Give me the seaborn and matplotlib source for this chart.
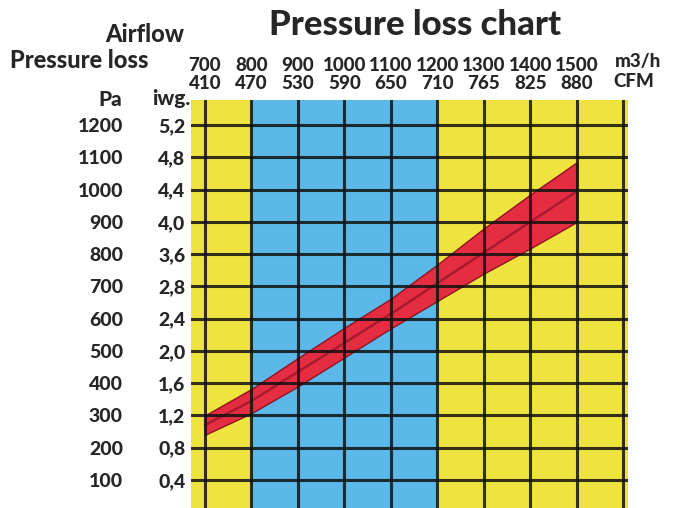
"""Pressure loss chart"""

from matplotlib import pyplot as plt
from matplotlib import transforms
import seaborn as sns

# Airflow (m3/h) and matching CFM labels
airflow = [700, 800, 900, 1000, 1100, 1200, 1300, 1400, 1500, 1600]
cfm = ['410', '470', '530', '590', '650', '710', '765', '825', '880', '']

# Pressure loss grid (Pa) and the iwg. labels printed beside it
pa = [100, 200, 300, 400, 500, 600, 700, 800, 900, 1000, 1100, 1200]
iwg = ['0,4', '0,8', '1,2', '1,6', '2,0', '2,4', '2,8', '3,6', '4,0', '4,4', '4,8', '5,2']

# Red band: lower / middle / upper pressure loss per airflow
band_flow = [700, 800, 900, 1000, 1100, 1200, 1300, 1400, 1500]
band_low = [240, 307, 390, 480, 570, 655, 740, 818, 900]
band_mid = [270, 345, 435, 525, 615, 710, 805, 900, 995]
band_high = [300, 382, 478, 572, 662, 768, 880, 985, 1085]

# Background zones (start, end, colour)
zones = [(670, 800, '#EFE33F'), (800, 1200, '#5CB8E8'), (1200, 1610, '#EFE33F')]

sns.set_theme(style='white')
plt.rcParams['font.family'] = ['Lato', 'DejaVu Sans']

fig = plt.figure(figsize=(6.76, 5.08), dpi=100)
ax = fig.add_axes([191 / 676, 0, (628 - 191) / 676, (508 - 100) / 508])

for start, end, colour in zones:
    ax.axvspan(start, end, color=colour, zorder=0, lw=0)

ax.fill_between(band_flow, band_low, band_high, color='#E52D42',
                edgecolor='#8E1422', linewidth=1.0, zorder=1)
sns.lineplot(x=band_flow, y=band_mid, color='#A81A2C', linewidth=1.8,
             ax=ax, zorder=2)

for x in airflow:
    ax.axvline(x, color='#111111', alpha=0.85, linewidth=2.2, zorder=3)
for y in pa:
    ax.axhline(y, color='#111111', alpha=0.85, linewidth=2.2, zorder=3)

ax.set_xlim(670, 1610)
ax.set_ylim(13, 1278)
for s in ax.spines.values():
    s.set_visible(False)

W = 'black'
FS = 13.5

# top tick labels: m3/h over CFM
ax.xaxis.tick_top()
ax.set_xticks(airflow, labels=[f'{a}\n{c}' if c else '' for a, c in zip(airflow, cfm)])
ax.tick_params(axis='x', length=0, pad=6, labelsize=FS)
for lab in ax.get_xticklabels():
    lab.set_fontweight(W)
    lab.set_linespacing(1.05)

# left tick labels: Pa and iwg.
ax.set_yticks(pa, labels=[str(p) for p in pa])
ax.tick_params(axis='y', length=0, pad=49, labelsize=FS + 0.5)
for lab in ax.get_yticklabels():
    lab.set_fontweight(W)
ax2 = ax.secondary_yaxis('left')
ax2.set_yticks(pa, labels=iwg)
ax2.tick_params(axis='y', length=0, pad=4, labelsize=FS + 0.5)
for s in ax2.spines.values():
    s.set_visible(False)
for lab in ax2.get_yticklabels():
    lab.set_fontweight(W)

# unit labels next to the top ticks
trans = transforms.blended_transform_factory(ax.transData, fig.transFigure)
ax.text(1582, 1 - 62 / 508, 'm3/h', transform=trans, ha='left', va='center',
        fontsize=FS, fontweight=W)
ax.text(1578, 1 - 82 / 508, 'CFM', transform=trans, ha='left', va='center',
        fontsize=FS, fontweight=W)

fig.text(415 / 676, 1 - 25 / 508, 'Pressure loss chart', ha='center', va='center',
         fontsize=25, fontweight=W)
fig.text(145 / 676, 1 - 34 / 508, 'Airflow', ha='center', va='center',
         fontsize=17, fontweight=W)
fig.text(10 / 676, 1 - 61 / 508, 'Pressure loss', ha='left', va='center',
         fontsize=17, fontweight=W)
fig.text(122 / 676, 1 - 100 / 508, 'Pa', ha='right', va='center',
         fontsize=15, fontweight=W)
fig.text(190 / 676, 1 - 99 / 508, 'iwg.', ha='right', va='center',
         fontsize=15, fontweight=W)

fig.savefig('out.png', dpi=100)
